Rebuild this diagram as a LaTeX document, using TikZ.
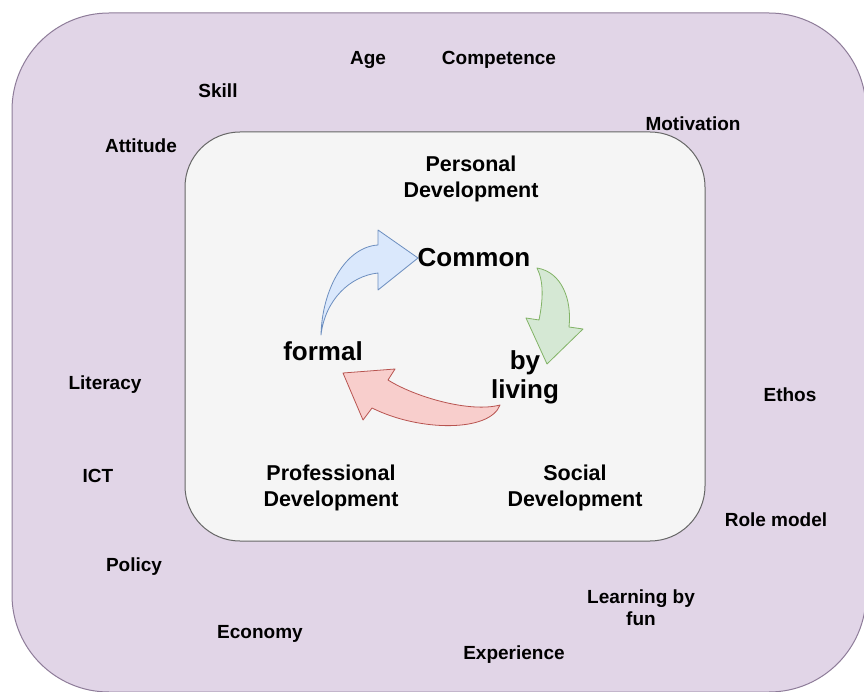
\documentclass[tikz,border=0pt]{standalone}
\usepackage{fontspec}
\setmainfont{Liberation Sans}
\usepackage{tikz}
\usetikzlibrary{positioning}
\definecolor{lilafill}{HTML}{E1D5E7}
\definecolor{lilaline}{HTML}{8E7C99}
\definecolor{greyfill}{HTML}{F5F5F5}
\definecolor{greyline}{HTML}{666666}
\definecolor{bluefill}{HTML}{DAE8FC}
\definecolor{blueline}{HTML}{6C8EBF}
\definecolor{greenfill}{HTML}{D5E8D4}
\definecolor{greenline}{HTML}{82B366}
\definecolor{redfill}{HTML}{F8CECC}
\definecolor{redline}{HTML}{B85450}
\tikzstyle{outerbox} = [draw=lilaline, fill=lilafill, line width=1pt, rectangle, rounded corners=97pt, minimum width=854pt, minimum height=679pt, inner sep=0pt]
\tikzstyle{innerbox} = [draw=greyline, fill=greyfill, line width=1pt, rectangle, rounded corners=55pt, minimum width=520pt, minimum height=409pt, inner sep=0pt]
\tikzstyle{factor} = [font=\fontsize{19}{22}\selectfont\bfseries, align=center, inner sep=0pt, yshift=-2.5pt]
\tikzstyle{area} = [font=\fontsize{21.5}{26}\selectfont\bfseries, align=center, inner sep=0pt, yshift=-1.5pt]
\tikzstyle{core} = [font=\fontsize{26}{29}\selectfont\bfseries, align=center, inner sep=0pt]
\tikzstyle{bendarrow} = [line width=0.8pt, line join=round]

\begin{document}
\begin{tikzpicture}[x=1pt, y=-1pt]
	\useasboundingbox (0,0) rectangle (864,692);
	\node [outerbox] (outer) at (439,352.5) {};
	\node [innerbox] (inner) at (445,336.5) {};
	% the three bent arrows
	\fill [bendarrow, draw=blueline, fill=bluefill] (321,335) .. controls (322,290) and (345,247) .. (378,245)
		-- (378,230) -- (418,258) -- (378,290) -- (378,273) .. controls (350,276) and (325,300) .. (321,335) -- cycle;
	\fill [bendarrow, draw=greenline, fill=greenfill] (537,268) .. controls (562,272) and (572,300) .. (569,327)
		-- (583,329) -- (547,364) -- (526,318) -- (539,320) .. controls (543,300) and (544,282) .. (537,268) -- cycle;
	\fill [bendarrow, draw=redline, fill=redfill] (500,405) .. controls (470,413) and (415,397) .. (388,380)
		-- (395,369) -- (343,373) -- (363,420) -- (372,408) .. controls (420,432) and (490,432) .. (500,405) -- cycle;
	% inner labels
	\node [core] (common) at (474,258) {Common};
	\node [core] (formal) at (323,351) {formal};
	\node [core] (living) at (525,377) {by\\living};
	\node [area] (personal) at (471,177) {Personal\\Development};
	\node [area] (professional) at (331,486) {Professional\\Development};
	\node [area] (social) at (575,486) {Social\\Development};
	% outer labels
	\node [factor] (age) at (368,57) {Age};
	\node [factor] (competence) at (499,57) {Competence};
	\node [factor] (skill) at (218,88) {Skill};
	\node [factor] (motivation) at (693,121) {Motivation};
	\node [factor] (attitude) at (141,143) {Attitude};
	\node [factor] (literacy) at (105,382) {Literacy};
	\node [factor] (ethos) at (790,392) {Ethos};
	\node [factor] (ict) at (98,473) {ICT};
	\node [factor] (rolemodel) at (776,517) {Role model};
	\node [factor] (policy) at (134,564) {Policy};
	\node [factor] (fun) at (641,605) {Learning by\\fun};
	\node [factor] (economy) at (260,631) {Economy};
	\node [factor] (experience) at (514,652) {Experience};
\end{tikzpicture}
\end{document}
